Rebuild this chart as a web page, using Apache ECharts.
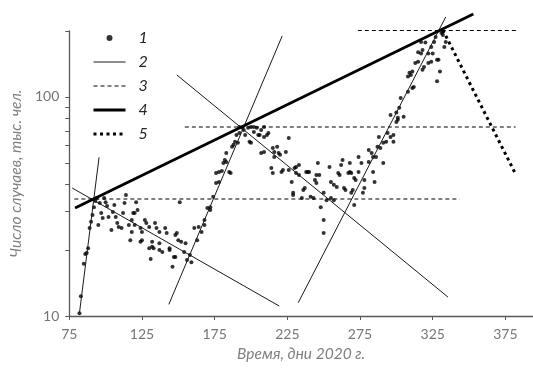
<!DOCTYPE html>
<html>
<head>
<meta charset="utf-8">
<script src="https://cdn.jsdelivr.net/npm/echarts@6/dist/echarts.min.js"></script>
<style>
  html, body { margin: 0; padding: 0; background: #fff; }
  #chart { width: 533px; height: 370px; }
</style>
</head>
<body>
<div id="chart"></div>
<script>
// daily cases, thousands
const caseDays = [
  82, 83, 85, 86, 87, 88, 89, 90, 91, 92, 93, 94, 95, 96, 97, 98, 99, 100, 101, 102,
  104, 105, 106, 107, 108, 109, 111, 112, 113, 114, 117, 116, 118, 118, 119, 120, 120, 121, 122, 124,
  124, 125, 125, 127, 128, 130, 130, 131, 132, 132, 133, 134, 135, 137, 137, 137, 139, 141, 142, 144,
  144, 146, 147, 148, 148, 149, 150, 151, 152, 154, 155,
  156, 158, 159, 161, 163, 164, 166, 168, 168, 170, 172, 172, 174, 176, 176, 178, 178, 180, 181, 182,
  183, 183, 185, 186, 187, 188, 189, 190, 191, 192, 192,
  194, 195, 196, 198, 199, 200, 200, 202, 202, 204, 205, 206, 207, 207, 209, 209, 209, 211, 212, 214,
  215, 215, 216, 216, 218, 219, 220, 221, 222, 224, 226, 226, 228, 229, 229, 230, 231, 231, 233, 233,
  235, 236, 237, 238, 239, 240, 241, 243, 244, 245, 245, 246, 247, 248, 250, 250, 250, 252, 254, 255,
  255, 257, 257, 259, 260, 261, 262, 263, 264, 265, 267, 268, 268, 269, 269, 270, 271, 271, 272, 274,
  274, 276, 277, 278, 278, 281, 281, 283, 284, 284, 285, 286, 287, 288, 289, 291, 291, 293, 294, 296,
  296, 298, 298, 300, 300, 301, 301, 302, 303, 305, 308, 308, 309, 310, 311, 311, 312, 313, 315, 315,
  317, 317, 318, 318, 319, 320, 322, 322, 324, 324, 325, 326, 327, 328, 328, 329, 330, 331, 332, 332,
  333, 334
];
const caseValues = [
  10.3, 12.3, 17.3, 19.2, 19.4, 20.4, 25.2, 26.9, 28.9, 31.4, 33.5, 34.6, 26.0, 32.8, 29.5, 28.0, 34.6, 33.1, 31.8, 28.3,
  24.7, 29.8, 32.1, 28.3, 26.6, 25.5, 25.2, 29.5, 32.8, 35.7, 22.2, 26.0, 24.2, 27.4, 29.5, 26.0, 29.5, 33.1, 30.5, 25.2,
  21.8, 24.2, 22.2, 27.4, 26.6, 25.5, 20.4, 18.2, 21.8, 20.7, 20.4, 26.6, 25.2, 24.2, 20.0, 21.5, 19.6, 25.2, 23.9, 20.4,
  20.0, 16.8, 18.6, 18.6, 23.4, 23.9, 22.2, 33.1, 21.8, 19.6, 21.5,
  18.0, 19.0, 17.6, 25.2, 22.2, 25.5, 24.2, 26.0, 27.4, 31.1, 31.4, 30.5, 35.0, 40.5, 45.0, 45.4, 40.9, 45.9, 50.0, 51.6,
  50.5, 55.5, 45.4, 45.0, 59.2, 60.5, 62.4, 67.0, 61.8, 68.5, 73.0,
  72.3, 70.7, 67.0, 72.3, 62.4, 73.0, 61.8, 73.0, 69.2, 72.3, 67.0, 67.0, 70.7, 55.5, 65.6, 56.1, 73.0, 67.0, 68.5, 47.4,
  58.5, 45.0, 56.1, 53.2, 59.2, 55.5, 54.4, 45.4, 46.4, 56.1, 65.0, 46.4, 40.9, 35.7, 36.5, 47.4, 47.9, 45.0, 48.9, 44.0,
  34.6, 37.6, 38.4, 45.4, 45.4, 45.4, 35.0, 34.6, 41.8, 44.0, 40.5, 50.0, 44.0, 31.4, 36.5, 23.9, 27.4, 33.8, 47.9, 34.6,
  40.9, 33.8, 39.7, 38.8, 45.0, 44.0, 48.9, 51.6, 38.4, 37.6, 45.0, 50.0, 45.4, 45.0, 36.5, 37.6, 42.7, 32.1, 41.8, 45.4,
  53.2, 50.0, 36.5, 41.8, 38.4, 50.5, 57.3, 55.5, 53.2, 45.4, 40.9, 53.2, 59.2, 65.6, 58.5, 50.0, 61.8, 62.4, 68.5, 65.6,
  82.8, 62.4, 67.0, 76.8, 84.9, 80.4, 78.6, 89.3, 98.9, 81.2, 105.6, 124, 129, 126, 130.5, 110, 111, 143, 144.6, 160,
  158, 178, 164, 133, 137, 177, 158, 143, 144.6, 169, 158, 178, 188, 118, 148, 148, 130.5, 196, 198.5, 192,
  169, 178
];

// exponential fits (straight on the log axis), [day, value] end points
const riseFit1 = [[82, 10.3], [95.5, 53]];
const riseFit2 = [[143.5, 11.3], [221.5, 190]];
const riseFit3 = [[232.5, 11.5], [334, 232]];
const fallFit1 = [[77, 38.4], [219.5, 11.1]];
const fallFit2 = [[149, 126], [335.5, 12.2]];

// peak levels
const level1 = [[78.5, 34.2], [343.5, 34.2]];
const level2 = [[154.5, 72.9], [382, 72.9]];
const level3 = [[273.5, 201], [383, 201]];

// envelope through the peaks, and the forecast decline
const envelope = [[79, 31.1], [353, 239]];
const forecast = [[332, 202], [382, 44.5]];

const legendNames = ['1', '2', '3', '4', '5'];
const xTicks = [75, 125, 175, 225, 275, 325, 375];
const yTicks = [10, 20, 30, 40, 50, 60, 70, 80, 90, 100, 200];
const yLabels = [10, 100];

const font = 'Lato, "Open Sans", sans-serif';
const axisColor = '#595959';
const labelColor = '#767676';

const thinStyle = { color: '#1a1a1a', width: 1 };
const dashStyle = { color: '#000', width: 1.1, type: [4, 3] };
const thickStyle = { color: '#000', width: 2.8 };
const dotStyle = { color: '#000', width: 3, type: [3, 3.5], cap: 'butt' };

const chart = echarts.init(document.getElementById('chart'), null, { renderer: 'canvas' });

const lineSeries = (name, data, lineStyle) => ({
  name,
  type: 'line',
  data,
  symbol: 'none',
  clip: false,
  silent: true,
  itemStyle: { color: '#000' },
  lineStyle
});

const series = [
  {
    name: '1',
    type: 'scatter',
    data: caseDays.map((d, i) => [d, caseValues[i]]),
    symbol: 'circle',
    symbolSize: 4,
    itemStyle: { color: '#000' },
    clip: false,
    silent: true
  }
];
[riseFit1, riseFit2, riseFit3, fallFit1, fallFit2].forEach(d => series.push(lineSeries('2', d, thinStyle)));
[level1, level2, level3].forEach(d => series.push(lineSeries('3', d, dashStyle)));
series.push(lineSeries('4', envelope, thickStyle));
series.push(lineSeries('5', forecast, dotStyle));

// legend: hide the marker ECharts puts in the middle of line icons, keep real line widths
const legendStyles = [null, thinStyle, dashStyle, thickStyle, dotStyle];
const legendData = legendNames.map((n, i) =>
  i === 0 ? { name: n } : { name: n, itemStyle: { opacity: 0 }, lineStyle: legendStyles[i] });

chart.setOption({
  animation: false,
  backgroundColor: '#fff',
  grid: { left: 67, right: 0, top: 31, bottom: 54 },
  legend: {
    data: legendData,
    orient: 'vertical',
    left: 92,
    top: 30,
    padding: 0,
    itemWidth: 32,
    itemHeight: 6,
    itemGap: 8,
    selectedMode: false,
    textStyle: {
      fontFamily: font,
      fontStyle: 'italic',
      fontSize: 16,
      lineHeight: 14,
      color: '#262626',
      padding: [0, 0, 0, 8]
    }
  },
  xAxis: {
    type: 'value',
    min: 75,
    max: 394,
    name: 'Время, дни 2020 г.',
    nameLocation: 'middle',
    nameGap: 28,
    nameTextStyle: { fontFamily: font, fontStyle: 'italic', fontSize: 15.5, color: '#7f7f7f' },
    axisLine: { show: true, onZero: false, lineStyle: { color: axisColor, width: 1.3 } },
    axisTick: { show: true, customValues: xTicks, length: 4, lineStyle: { color: axisColor } },
    axisLabel: { customValues: xTicks, color: labelColor, fontFamily: font, fontSize: 14, margin: 11 },
    splitLine: { show: false }
  },
  yAxis: {
    type: 'log',
    logBase: 10,
    min: 10,
    max: 200,
    name: 'Число случаев, тыс. чел.',
    nameLocation: 'middle',
    nameGap: 38,
    nameTextStyle: { fontFamily: font, fontStyle: 'italic', fontSize: 15.5, color: '#7f7f7f' },
    axisLine: { show: true, lineStyle: { color: axisColor, width: 1.3 } },
    axisTick: { show: true, customValues: yTicks, length: 4, lineStyle: { color: axisColor } },
    axisLabel: { customValues: yLabels, color: labelColor, fontFamily: font, fontSize: 14, margin: 10 },
    splitLine: { show: false },
    minorTick: { show: false }
  },
  series
});
</script>
</body>
</html>
